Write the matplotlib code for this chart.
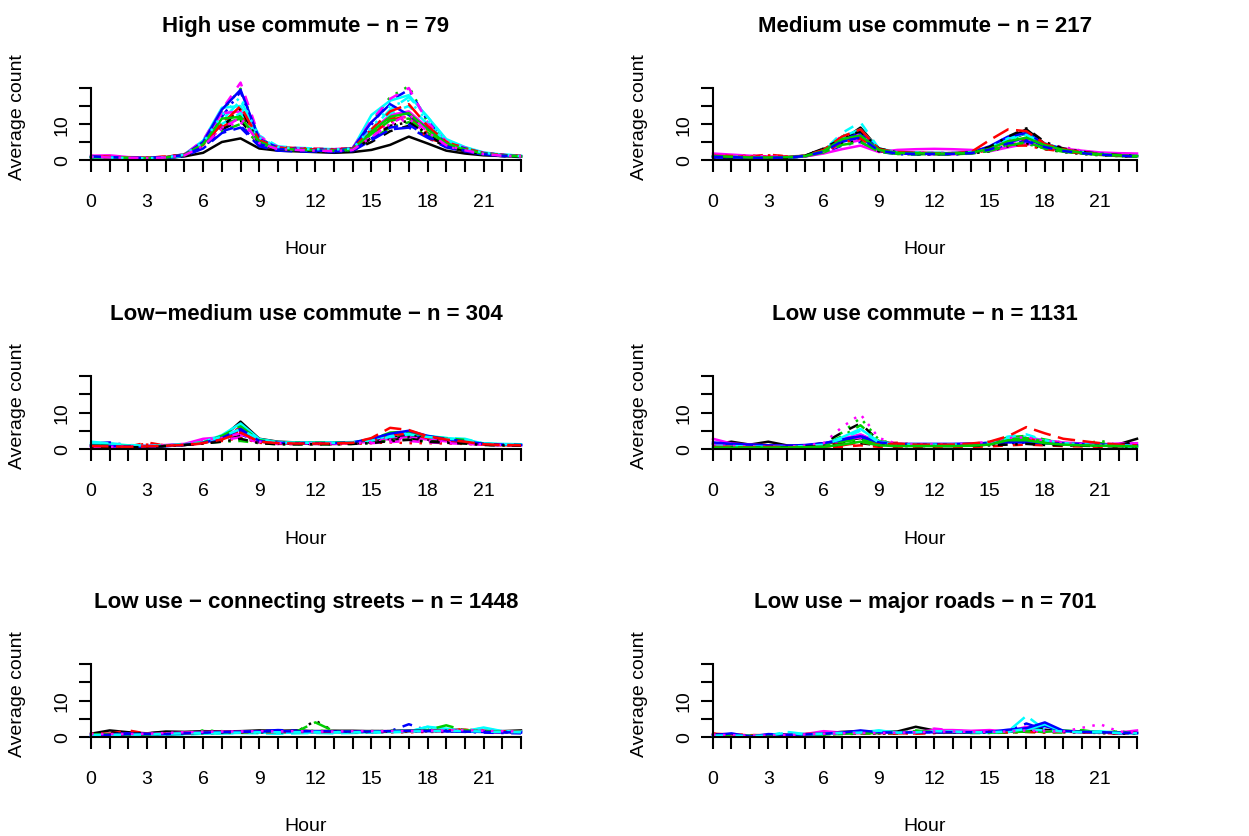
import matplotlib
matplotlib.use('Agg')
import matplotlib.pyplot as plt

plt.rcParams['font.family'] = ['Liberation Sans', 'DejaVu Sans']

hours = list(range(24))
hour_labels = [str(h) if h % 3 == 0 else '' for h in hours]
y_ticks = [0, 5, 10, 15, 20]
y_labels = ['0', '', '10', '', '']

titles = [
    'High use commute \u2212 n = 79',
    'Medium use commute \u2212 n = 217',
    'Low\u2212medium use commute \u2212 n = 304',
    'Low use commute \u2212 n = 1131',
    'Low use \u2212 connecting streets \u2212 n = 1448',
    'Low use \u2212 major roads \u2212 n = 701',
]

# hourly average counts, one list per counter
high_use = [
    [0.8, 0.6, 0.5, 0.5, 0.6, 1.0, 2.0, 5.0, 6.0, 3.2, 2.6, 2.4, 2.2, 2.0, 2.2, 2.8, 4.2, 6.5, 4.6, 2.6, 1.8, 1.3, 1.1, 0.9],
    [1.0, 0.9, 0.6, 0.6, 0.9, 1.5, 3.8, 9.0, 12.5, 5.0, 3.3, 3.0, 2.8, 2.7, 3.0, 7.0, 11.0, 12.5, 7.5, 4.3, 2.9, 1.7, 1.3, 1.0],
    [0.9, 0.7, 0.5, 0.5, 0.7, 1.4, 5.2, 13.5, 19.8, 6.0, 3.5, 3.1, 2.9, 2.8, 3.3, 10.5, 17.5, 20.5, 10.5, 5.1, 3.2, 1.9, 1.4, 1.1],
    [0.7, 0.6, 0.5, 0.4, 0.6, 1.3, 4.5, 12.0, 19.0, 5.5, 3.3, 3.0, 2.8, 2.8, 3.1, 9.8, 16.5, 19.5, 11.0, 5.4, 3.3, 1.9, 1.3, 1.0],
    [0.8, 0.7, 0.6, 0.5, 0.7, 1.5, 4.8, 11.0, 16.5, 6.8, 3.8, 3.4, 3.2, 3.0, 3.3, 8.5, 14.0, 17.5, 12.0, 5.6, 3.5, 2.0, 1.5, 1.2],
    [1.2, 1.3, 0.8, 0.7, 0.8, 1.6, 5.0, 13.0, 13.5, 5.8, 3.4, 3.1, 2.9, 2.8, 3.2, 8.0, 12.5, 13.5, 9.0, 4.8, 3.2, 1.9, 1.4, 1.1],
    [0.6, 0.5, 0.4, 0.4, 0.5, 1.2, 3.5, 8.5, 11.0, 4.5, 2.8, 2.6, 2.4, 2.3, 2.6, 5.0, 8.0, 9.5, 6.5, 3.6, 2.4, 1.5, 1.1, 0.9],
    [0.9, 0.8, 0.6, 0.6, 0.9, 1.4, 4.2, 9.5, 13.0, 5.2, 3.1, 2.9, 2.7, 2.6, 2.9, 6.8, 10.5, 12.0, 6.5, 3.8, 2.5, 1.6, 1.2, 1.0],
    [0.7, 0.6, 0.5, 0.5, 0.6, 1.3, 3.8, 8.0, 10.0, 4.2, 2.9, 2.7, 2.5, 2.4, 2.8, 5.8, 9.0, 10.5, 6.8, 3.9, 2.6, 1.6, 1.2, 0.9],
    [0.5, 0.4, 0.4, 0.3, 0.5, 1.1, 3.2, 7.5, 9.0, 3.8, 2.6, 2.4, 2.3, 2.2, 2.5, 5.5, 8.5, 9.0, 6.2, 3.5, 2.4, 1.5, 1.1, 0.8],
    [0.9, 0.8, 0.6, 0.6, 0.8, 1.6, 5.4, 14.5, 15.0, 5.8, 3.5, 3.2, 3.0, 2.9, 3.2, 12.5, 16.5, 18.0, 12.0, 5.8, 3.6, 2.1, 1.5, 1.2],
    [1.0, 0.8, 0.7, 0.6, 0.8, 1.5, 5.5, 14.0, 21.5, 6.5, 3.6, 3.3, 3.1, 3.0, 3.4, 11.0, 17.0, 20.0, 10.5, 5.2, 3.4, 2.0, 1.4, 1.1],
    [0.8, 0.7, 0.5, 0.5, 0.6, 1.3, 4.0, 9.5, 12.5, 4.8, 3.0, 2.8, 2.6, 2.5, 2.8, 6.2, 9.5, 11.0, 7.2, 4.0, 2.7, 1.6, 1.2, 0.9],
    [1.1, 0.9, 0.7, 0.6, 1.0, 1.6, 4.4, 10.5, 14.0, 5.6, 3.6, 3.3, 3.1, 3.0, 3.3, 7.5, 11.5, 12.0, 6.0, 4.6, 3.1, 1.9, 1.4, 1.1],
    [0.9, 0.7, 0.6, 0.5, 0.7, 1.5, 4.6, 10.0, 11.5, 5.0, 3.2, 3.0, 2.8, 2.7, 3.0, 7.2, 11.0, 11.5, 7.5, 4.2, 2.8, 1.7, 1.3, 1.0],
    [0.8, 0.7, 0.5, 0.5, 0.7, 1.4, 5.0, 14.0, 19.5, 5.8, 3.4, 3.1, 2.9, 2.8, 3.2, 10.5, 15.5, 12.5, 8.8, 4.8, 3.2, 1.9, 1.4, 1.0],
    [0.7, 0.6, 0.5, 0.4, 0.6, 1.2, 4.2, 10.0, 13.0, 5.5, 3.2, 2.9, 2.7, 2.6, 2.9, 8.0, 13.0, 15.0, 10.0, 5.0, 3.0, 1.8, 1.3, 1.0],
    [1.1, 0.9, 0.6, 0.6, 0.8, 1.5, 4.0, 9.0, 10.5, 4.6, 3.0, 2.8, 2.6, 2.5, 2.8, 6.5, 10.0, 11.5, 7.0, 3.9, 2.6, 1.6, 1.2, 1.0],
    [0.7, 0.6, 0.5, 0.5, 0.6, 1.3, 4.0, 9.0, 14.5, 4.5, 2.9, 2.7, 2.5, 2.4, 2.7, 6.0, 9.5, 10.5, 7.0, 3.8, 2.6, 1.6, 1.2, 0.9],
    [0.9, 0.8, 0.6, 0.6, 0.8, 1.5, 4.2, 10.0, 15.0, 5.5, 3.4, 3.1, 2.9, 2.8, 3.1, 8.5, 13.5, 15.5, 9.5, 5.0, 3.3, 1.9, 1.4, 1.1],
    [0.8, 0.7, 0.6, 0.5, 0.7, 1.4, 4.4, 11.5, 12.0, 5.0, 3.1, 2.9, 2.7, 2.6, 2.9, 7.8, 12.0, 13.0, 8.5, 4.6, 3.0, 1.8, 1.3, 1.0],
    [1.0, 0.8, 0.6, 0.6, 0.8, 1.4, 3.6, 8.0, 9.5, 4.4, 3.0, 2.8, 2.6, 2.5, 2.7, 6.0, 9.0, 9.8, 6.6, 3.8, 2.6, 1.6, 1.2, 1.0],
    [0.8, 0.7, 0.5, 0.5, 0.7, 1.5, 4.9, 12.5, 17.5, 6.2, 3.6, 3.2, 3.0, 2.9, 3.2, 9.0, 15.0, 16.5, 11.0, 5.5, 3.4, 2.0, 1.4, 1.1],
    [0.9, 0.7, 0.6, 0.5, 0.7, 1.3, 3.9, 8.8, 11.8, 4.7, 3.0, 2.8, 2.6, 2.5, 2.8, 6.4, 10.0, 12.8, 7.8, 4.1, 2.7, 1.7, 1.2, 1.0],
]

medium_use = [
    [1.0, 0.8, 0.6, 0.6, 0.7, 1.2, 3.0, 5.5, 9.0, 3.0, 2.2, 2.0, 1.9, 1.9, 2.2, 3.5, 6.0, 8.5, 4.5, 3.0, 2.2, 1.6, 1.3, 1.1],
    [1.5, 1.2, 1.0, 1.5, 1.0, 1.1, 2.2, 5.0, 7.0, 2.6, 2.0, 1.9, 1.8, 1.8, 2.0, 3.0, 5.0, 6.0, 4.0, 2.8, 2.0, 1.5, 1.2, 1.0],
    [1.2, 1.0, 0.8, 0.8, 0.9, 1.1, 2.5, 6.5, 8.0, 2.8, 2.1, 2.0, 1.9, 1.9, 2.1, 3.2, 5.5, 6.5, 4.2, 3.0, 2.1, 1.6, 1.3, 1.1],
    [0.8, 0.7, 0.5, 0.5, 0.6, 1.0, 2.0, 4.0, 5.0, 2.3, 1.6, 1.5, 1.5, 1.5, 1.8, 2.6, 4.0, 5.5, 3.5, 2.5, 1.9, 1.5, 1.2, 1.0],
    [1.1, 0.9, 0.7, 0.7, 0.8, 1.2, 2.8, 6.0, 7.5, 3.2, 2.2, 2.0, 2.0, 2.0, 2.2, 3.4, 5.8, 7.0, 4.6, 3.1, 2.2, 1.7, 1.4, 1.2],
    [1.8, 1.5, 1.2, 1.0, 0.9, 1.0, 1.8, 3.0, 4.0, 2.2, 2.8, 3.0, 3.1, 3.0, 2.8, 2.4, 3.5, 4.5, 3.8, 3.2, 2.6, 2.1, 1.9, 1.8],
    [0.9, 0.7, 0.5, 0.4, 0.6, 1.2, 3.2, 6.0, 7.5, 3.0, 2.0, 1.8, 1.7, 1.7, 2.0, 3.2, 5.5, 7.5, 4.0, 2.8, 2.0, 1.5, 1.2, 1.0],
    [1.2, 1.0, 1.2, 1.0, 0.9, 1.1, 2.4, 5.5, 6.5, 2.7, 2.0, 1.9, 1.8, 1.8, 2.0, 3.0, 4.8, 5.5, 3.8, 2.7, 2.0, 1.5, 1.2, 1.0],
    [1.0, 0.8, 0.6, 0.6, 0.7, 1.0, 2.3, 7.0, 6.0, 2.6, 1.9, 1.8, 1.7, 1.7, 1.9, 2.8, 4.2, 4.5, 3.2, 2.4, 1.8, 1.4, 1.1, 0.9],
    [0.7, 0.6, 0.5, 0.5, 0.6, 1.0, 2.2, 5.0, 6.5, 2.5, 1.8, 1.7, 1.7, 1.7, 2.0, 3.0, 5.0, 6.0, 3.8, 2.6, 1.9, 1.5, 1.2, 1.0],
    [0.9, 0.8, 0.6, 0.6, 0.7, 1.1, 2.6, 6.5, 8.5, 3.0, 2.0, 1.9, 1.8, 1.8, 2.1, 3.2, 5.8, 7.5, 4.4, 3.0, 2.1, 1.6, 1.3, 1.1],
    [1.3, 1.1, 0.9, 0.8, 0.8, 1.0, 2.0, 4.5, 5.5, 2.4, 1.8, 1.7, 1.6, 1.6, 1.9, 2.6, 4.5, 5.0, 3.5, 2.6, 2.0, 1.6, 1.4, 1.3],
    [0.8, 0.6, 0.5, 0.5, 0.6, 1.1, 2.4, 4.5, 5.5, 2.4, 1.7, 1.6, 1.6, 1.6, 1.8, 2.4, 3.8, 4.5, 3.0, 2.2, 1.7, 1.3, 1.1, 0.9],
    [1.4, 1.1, 0.9, 1.3, 1.0, 1.1, 2.2, 4.8, 6.0, 2.5, 1.9, 1.8, 1.7, 1.7, 1.9, 2.7, 4.0, 4.0, 3.0, 2.4, 1.9, 1.5, 1.2, 1.0],
    [1.0, 0.8, 0.7, 0.6, 0.7, 1.0, 2.1, 4.2, 5.0, 2.3, 1.7, 1.6, 1.6, 1.6, 1.8, 2.5, 4.0, 5.0, 3.2, 2.3, 1.8, 1.4, 1.1, 0.9],
    [0.8, 0.7, 0.6, 0.6, 0.7, 1.1, 2.6, 5.5, 7.5, 2.9, 2.0, 1.9, 1.8, 1.8, 2.1, 3.8, 6.5, 7.5, 4.5, 3.0, 2.2, 1.7, 1.3, 1.1],
    [1.0, 0.9, 0.7, 0.6, 0.7, 1.1, 2.6, 7.5, 10.5, 3.2, 2.1, 2.0, 1.9, 1.9, 2.2, 3.4, 6.0, 7.0, 4.6, 3.1, 2.2, 1.7, 1.3, 1.1],
    [1.4, 1.2, 1.0, 0.9, 0.9, 1.0, 2.4, 6.8, 7.0, 2.9, 2.2, 2.1, 2.0, 2.0, 2.2, 3.0, 5.5, 5.8, 4.5, 3.6, 2.6, 1.9, 1.6, 1.4],
    [0.9, 0.7, 0.5, 0.5, 0.6, 1.2, 3.2, 6.0, 8.0, 3.2, 2.1, 1.9, 1.8, 1.8, 2.1, 3.6, 6.5, 8.8, 5.0, 3.2, 2.3, 1.7, 1.4, 1.2],
    [1.2, 1.0, 0.8, 0.8, 0.8, 1.2, 2.8, 6.5, 8.5, 3.0, 2.2, 2.0, 1.9, 1.9, 2.2, 5.5, 8.5, 8.0, 4.5, 3.0, 2.2, 1.6, 1.3, 1.1],
    [1.1, 0.9, 0.7, 0.7, 0.8, 1.1, 2.5, 5.8, 6.8, 2.8, 2.0, 1.9, 1.8, 1.8, 2.0, 3.1, 5.2, 6.2, 4.1, 2.8, 2.0, 1.6, 1.3, 1.1],
    [0.9, 0.8, 0.6, 0.6, 0.7, 1.1, 2.3, 5.2, 6.2, 2.6, 1.8, 1.7, 1.7, 1.7, 1.9, 2.9, 4.6, 5.2, 3.6, 2.5, 1.9, 1.5, 1.2, 1.0],
]

low_medium_use = [
    [1.0, 1.2, 0.8, 0.7, 1.0, 1.2, 1.8, 3.0, 7.5, 2.8, 2.0, 1.8, 1.8, 1.7, 1.8, 2.2, 3.0, 3.8, 3.0, 2.5, 2.2, 1.4, 1.2, 1.1],
    [0.6, 0.5, 0.6, 1.8, 0.9, 1.1, 1.5, 2.5, 5.0, 2.0, 1.6, 1.5, 1.5, 1.5, 1.6, 2.2, 4.0, 4.5, 3.0, 2.3, 2.0, 1.3, 1.1, 1.0],
    [1.2, 0.8, 0.7, 0.7, 0.9, 1.2, 1.8, 3.5, 4.5, 2.2, 1.7, 1.6, 1.6, 1.6, 1.7, 2.4, 3.5, 4.0, 3.2, 2.6, 2.2, 1.4, 1.2, 1.1],
    [1.5, 1.8, 1.0, 0.8, 1.0, 1.2, 1.6, 2.8, 4.0, 2.0, 1.6, 1.5, 1.5, 1.5, 1.7, 2.6, 3.8, 4.2, 3.0, 2.4, 1.9, 1.3, 1.2, 1.0],
    [2.0, 1.5, 1.0, 0.9, 1.0, 1.2, 1.7, 3.2, 6.5, 2.6, 1.8, 1.7, 1.7, 1.7, 1.8, 2.4, 3.6, 4.5, 3.5, 3.0, 2.8, 1.5, 1.3, 1.2],
    [0.5, 0.6, 0.8, 0.9, 1.1, 1.4, 2.8, 3.2, 4.2, 2.1, 1.6, 1.6, 1.5, 1.5, 1.6, 2.0, 2.8, 3.2, 2.6, 2.1, 1.7, 1.3, 1.2, 1.0],
    [0.4, 0.4, 0.4, 0.4, 0.8, 1.2, 1.8, 2.5, 3.5, 1.8, 1.4, 1.4, 1.4, 1.4, 1.5, 1.8, 2.5, 2.8, 2.2, 1.9, 1.6, 1.2, 1.0, 0.9],
    [0.8, 0.7, 0.6, 1.5, 1.0, 1.1, 1.5, 2.2, 3.0, 1.7, 1.4, 1.4, 1.3, 1.3, 1.4, 1.6, 1.8, 1.6, 1.6, 1.5, 1.4, 1.2, 1.0, 0.9],
    [0.9, 0.8, 0.7, 0.6, 0.8, 1.1, 1.6, 2.0, 2.2, 1.6, 1.3, 1.3, 1.3, 1.3, 1.4, 1.7, 2.4, 2.6, 2.0, 1.8, 1.6, 1.2, 1.0, 0.9],
    [0.7, 0.6, 0.5, 0.5, 0.8, 1.1, 1.7, 3.0, 5.0, 2.3, 1.7, 1.6, 1.6, 1.6, 1.8, 2.6, 4.0, 4.8, 3.4, 2.6, 2.0, 1.4, 1.2, 1.1],
    [1.6, 1.2, 0.9, 0.8, 1.0, 1.3, 1.9, 3.8, 7.0, 2.7, 1.9, 1.8, 1.8, 1.8, 1.9, 2.6, 3.8, 4.6, 3.6, 3.0, 2.6, 1.5, 1.4, 1.3],
    [0.6, 0.5, 0.5, 0.6, 0.8, 1.1, 1.6, 2.4, 3.2, 1.8, 1.4, 1.4, 1.4, 1.4, 1.5, 1.6, 1.9, 2.2, 1.8, 1.6, 1.4, 1.2, 1.0, 0.9],
    [0.8, 0.7, 0.6, 0.6, 0.8, 1.1, 1.6, 2.6, 4.2, 2.0, 1.5, 1.4, 1.4, 1.4, 1.5, 1.9, 2.8, 3.2, 2.6, 2.1, 1.8, 1.3, 1.1, 1.0],
    [1.0, 0.8, 0.7, 1.2, 0.9, 1.1, 1.6, 2.8, 6.0, 2.2, 1.7, 1.6, 1.6, 1.6, 1.7, 2.4, 3.8, 4.2, 3.0, 2.4, 2.0, 1.3, 1.1, 1.0],
    [1.1, 0.9, 0.8, 0.7, 0.9, 1.2, 1.8, 3.6, 6.2, 2.4, 1.8, 1.7, 1.7, 1.7, 1.8, 2.6, 4.5, 4.8, 3.4, 2.9, 2.5, 1.4, 1.2, 1.1],
    [0.9, 0.8, 0.7, 0.6, 0.8, 1.1, 1.7, 3.0, 5.5, 2.2, 1.7, 1.6, 1.6, 1.6, 1.8, 2.8, 4.2, 5.0, 3.6, 2.7, 2.1, 1.4, 1.2, 1.1],
    [1.8, 1.6, 1.1, 0.9, 1.0, 1.2, 1.8, 3.4, 5.5, 2.5, 1.8, 1.7, 1.7, 1.7, 1.8, 2.3, 3.3, 4.0, 3.3, 2.8, 2.6, 1.5, 1.3, 1.2],
    [0.7, 0.6, 0.7, 0.8, 1.0, 1.3, 2.5, 3.0, 3.8, 2.0, 1.6, 1.5, 1.5, 1.5, 1.6, 1.9, 2.5, 2.8, 2.3, 1.9, 1.6, 1.2, 1.1, 1.0],
    [0.5, 0.5, 0.5, 0.5, 0.8, 1.1, 1.5, 2.0, 2.8, 1.6, 1.3, 1.3, 1.3, 1.3, 1.4, 1.6, 2.2, 2.5, 2.0, 1.7, 1.5, 1.1, 1.0, 0.9],
    [0.8, 0.7, 0.6, 0.7, 0.9, 1.1, 1.6, 2.6, 4.5, 2.0, 1.6, 1.5, 1.5, 1.5, 1.7, 3.0, 5.8, 5.2, 3.5, 2.6, 2.0, 1.3, 1.1, 1.0],
]

low_use = [
    [1.2, 2.0, 1.2, 2.0, 1.0, 0.8, 1.5, 2.2, 3.0, 1.5, 1.2, 1.2, 1.2, 1.2, 1.3, 1.5, 2.0, 2.5, 1.8, 1.5, 1.3, 1.2, 1.3, 2.8],
    [0.8, 0.6, 0.6, 0.7, 0.6, 0.6, 0.5, 0.6, 1.0, 0.6, 0.5, 0.5, 0.5, 0.5, 0.6, 0.7, 1.0, 1.2, 1.0, 0.8, 0.7, 0.6, 0.6, 0.6],
    [0.5, 0.5, 0.5, 0.5, 0.5, 0.8, 1.5, 4.5, 8.5, 2.5, 1.2, 1.1, 1.1, 1.1, 1.2, 1.8, 3.0, 3.2, 2.4, 1.6, 1.2, 2.3, 1.0, 0.8],
    [1.0, 0.8, 0.8, 0.7, 0.6, 0.9, 1.3, 2.2, 3.2, 1.5, 1.1, 1.1, 1.1, 1.1, 1.3, 1.5, 2.0, 2.3, 1.6, 1.3, 1.1, 1.0, 0.9, 0.8],
    [0.5, 1.5, 0.8, 0.6, 0.5, 0.8, 1.2, 2.5, 4.0, 1.6, 1.2, 1.1, 1.1, 1.1, 1.2, 1.6, 2.5, 3.5, 2.2, 1.6, 1.3, 1.1, 1.0, 0.6],
    [2.8, 1.5, 1.2, 1.0, 0.8, 1.0, 1.5, 2.8, 4.0, 1.8, 1.3, 1.3, 1.3, 1.3, 1.4, 1.7, 2.4, 3.0, 2.2, 1.8, 1.5, 1.3, 1.5, 1.6],
    [0.8, 0.7, 0.7, 0.6, 0.6, 0.9, 1.6, 4.5, 7.0, 2.2, 1.2, 1.1, 1.1, 1.1, 1.2, 1.6, 2.2, 2.6, 1.9, 1.5, 1.3, 1.1, 1.0, 2.2],
    [1.0, 0.9, 0.8, 1.2, 0.7, 0.8, 1.0, 1.6, 2.2, 1.2, 1.0, 1.0, 1.0, 1.0, 1.1, 1.3, 1.8, 2.2, 1.6, 1.3, 1.1, 1.0, 0.9, 0.9],
    [0.6, 0.5, 0.5, 0.5, 0.5, 0.7, 1.2, 3.5, 6.5, 2.2, 1.2, 1.1, 1.1, 1.1, 1.2, 1.7, 3.2, 3.6, 2.6, 1.7, 1.2, 1.6, 1.0, 0.9],
    [1.4, 1.2, 1.0, 0.9, 0.8, 1.0, 1.4, 2.6, 3.6, 1.6, 1.2, 1.2, 1.2, 1.2, 1.3, 1.5, 2.0, 2.2, 1.6, 1.4, 1.2, 1.1, 1.0, 0.9],
    [0.4, 0.9, 0.6, 0.5, 0.5, 0.7, 1.2, 3.2, 5.5, 2.0, 1.3, 1.2, 1.2, 1.2, 1.3, 1.8, 2.8, 3.0, 2.2, 1.6, 1.2, 1.0, 0.8, 0.5],
    [1.6, 1.3, 1.0, 0.9, 0.8, 1.0, 1.4, 2.4, 3.2, 1.6, 1.2, 1.2, 1.2, 1.2, 1.4, 1.9, 2.8, 2.8, 2.4, 1.8, 1.4, 1.2, 1.1, 1.0],
    [0.6, 0.5, 0.5, 0.5, 0.5, 0.7, 1.0, 1.8, 2.4, 1.2, 0.9, 0.9, 0.9, 0.9, 1.0, 1.2, 1.6, 1.8, 1.4, 1.2, 1.0, 0.9, 0.8, 0.7],
    [0.7, 0.6, 0.5, 0.5, 0.5, 0.6, 0.9, 1.4, 1.8, 1.6, 1.7, 1.2, 1.0, 1.0, 1.1, 1.4, 2.2, 2.8, 2.0, 1.5, 1.2, 1.0, 0.9, 0.8],
    [0.6, 0.5, 0.4, 0.4, 0.4, 0.6, 1.0, 2.0, 2.6, 1.4, 1.0, 1.0, 1.0, 1.0, 1.1, 1.5, 2.6, 3.0, 2.0, 1.5, 1.2, 1.0, 0.9, 0.8],
    [1.8, 1.4, 1.2, 1.0, 0.9, 1.1, 1.6, 2.5, 3.5, 1.8, 1.4, 1.4, 1.4, 1.4, 1.5, 1.6, 1.8, 1.8, 1.6, 1.5, 1.4, 1.2, 1.1, 1.0],
    [0.9, 0.8, 0.7, 0.6, 0.6, 0.8, 1.2, 2.8, 5.0, 1.8, 1.2, 1.2, 1.2, 1.2, 1.3, 1.8, 3.4, 4.0, 2.4, 1.6, 1.3, 1.1, 1.0, 0.9],
    [1.0, 0.8, 0.7, 0.6, 0.6, 0.9, 1.6, 6.0, 9.5, 3.0, 1.4, 1.3, 1.3, 1.3, 1.5, 2.0, 3.0, 3.2, 2.3, 1.6, 1.3, 1.1, 1.0, 0.9],
    [0.5, 0.5, 0.4, 0.4, 0.5, 0.6, 0.8, 1.2, 1.6, 1.0, 0.8, 0.8, 0.8, 0.8, 0.9, 1.0, 1.2, 1.4, 1.1, 1.0, 0.9, 0.8, 0.7, 0.6],
    [0.6, 0.5, 0.5, 0.6, 0.5, 0.5, 0.6, 1.0, 1.8, 1.2, 1.5, 1.2, 1.2, 1.2, 1.5, 2.0, 3.5, 6.0, 4.3, 2.8, 2.2, 1.6, 1.2, 1.0],
    [0.4, 0.4, 0.4, 0.4, 0.4, 0.5, 0.6, 1.2, 2.0, 1.0, 0.8, 0.8, 0.8, 0.8, 0.9, 1.2, 2.4, 2.4, 1.6, 1.2, 1.0, 0.9, 0.8, 0.7],
]

connecting_streets = [
    [0.9, 1.8, 1.3, 1.0, 1.5, 1.4, 1.6, 1.5, 1.6, 1.8, 1.7, 1.8, 1.6, 1.7, 1.7, 1.6, 1.6, 1.7, 1.8, 2.0, 1.9, 1.7, 1.6, 1.8],
    [0.8, 0.9, 1.8, 0.9, 0.8, 1.0, 1.2, 1.3, 1.4, 1.4, 1.3, 1.4, 1.3, 1.4, 1.4, 1.5, 1.5, 1.5, 1.6, 1.6, 2.2, 1.4, 1.3, 1.2],
    [0.6, 0.7, 0.8, 0.8, 0.9, 1.1, 1.8, 1.6, 1.4, 1.5, 1.6, 1.5, 1.7, 1.6, 1.5, 1.6, 1.7, 1.8, 1.9, 1.8, 1.6, 1.5, 1.4, 1.3],
    [0.3, 0.5, 0.7, 0.7, 0.9, 1.0, 1.1, 1.2, 1.3, 1.4, 1.4, 1.4, 1.5, 1.4, 1.4, 1.5, 1.6, 3.5, 1.8, 1.6, 1.4, 1.2, 1.1, 1.0],
    [0.5, 0.4, 0.5, 0.6, 0.8, 0.7, 0.9, 1.0, 1.1, 1.0, 0.9, 1.0, 1.1, 1.0, 1.1, 1.2, 1.3, 1.4, 2.8, 1.7, 1.5, 2.5, 1.4, 1.2],
    [0.7, 0.8, 0.9, 0.9, 1.0, 1.2, 1.4, 1.4, 1.5, 1.5, 1.6, 1.5, 1.6, 1.5, 1.5, 1.6, 1.6, 1.6, 1.7, 1.7, 1.8, 1.6, 1.5, 1.4],
    [1.0, 1.0, 1.0, 1.0, 1.3, 1.2, 1.4, 1.5, 1.5, 1.6, 1.5, 1.6, 1.5, 1.6, 1.5, 1.6, 1.6, 1.7, 1.7, 1.8, 1.7, 1.6, 1.5, 1.4],
    [0.9, 0.8, 0.7, 0.7, 0.8, 0.9, 1.0, 1.1, 1.2, 1.2, 1.2, 1.2, 1.2, 1.2, 1.2, 1.3, 1.3, 1.3, 1.4, 1.4, 1.6, 1.8, 1.3, 1.2],
    [0.8, 0.8, 0.8, 0.8, 0.8, 0.9, 1.0, 1.1, 1.2, 1.3, 1.4, 1.5, 1.6, 1.6, 1.5, 1.5, 1.6, 1.7, 2.0, 1.8, 1.8, 1.6, 1.5, 1.4],
    [0.6, 0.7, 1.0, 0.8, 0.7, 0.9, 1.1, 1.3, 1.4, 1.6, 1.9, 1.7, 1.5, 1.5, 1.4, 1.4, 1.5, 1.6, 1.6, 1.6, 1.5, 1.4, 1.3, 1.2],
    [0.4, 0.5, 0.6, 0.6, 0.7, 0.8, 0.9, 1.0, 1.1, 1.2, 1.1, 1.2, 1.2, 1.2, 1.2, 1.3, 1.4, 1.5, 2.8, 2.3, 1.6, 2.6, 1.6, 1.5],
    [0.6, 0.6, 0.7, 0.8, 1.0, 1.2, 1.3, 1.4, 1.4, 1.5, 1.4, 1.5, 1.4, 1.4, 1.5, 1.5, 1.5, 1.6, 1.7, 1.8, 1.8, 1.6, 1.5, 1.4],
    [0.7, 0.7, 0.8, 0.8, 1.2, 1.0, 1.1, 1.2, 1.2, 1.3, 1.3, 1.4, 4.5, 1.5, 1.4, 1.4, 1.5, 1.5, 1.6, 1.7, 1.6, 1.5, 1.4, 1.3],
    [0.9, 0.9, 0.8, 0.8, 0.9, 1.0, 1.1, 1.2, 1.3, 1.3, 1.3, 1.4, 1.4, 1.4, 1.4, 1.4, 1.5, 1.6, 1.7, 1.8, 2.0, 1.4, 1.6, 1.3],
    [0.7, 0.7, 0.7, 0.7, 0.8, 0.9, 1.2, 1.3, 1.3, 1.4, 1.4, 1.5, 4.0, 1.6, 1.5, 1.6, 1.6, 1.7, 1.9, 3.2, 1.8, 1.6, 1.5, 1.4],
    [0.4, 0.6, 0.8, 0.8, 0.8, 1.0, 1.2, 1.3, 1.4, 1.5, 1.6, 1.5, 1.6, 1.5, 1.5, 1.5, 1.6, 1.7, 1.7, 1.6, 1.5, 1.4, 1.3, 1.2],
    [0.5, 0.6, 0.6, 0.7, 0.9, 1.0, 1.1, 1.2, 1.2, 1.3, 1.3, 1.3, 1.4, 1.3, 1.3, 1.4, 1.4, 1.5, 1.6, 1.7, 1.6, 1.5, 1.4, 1.3],
    [0.8, 0.8, 0.8, 0.9, 1.1, 1.3, 1.4, 1.5, 1.5, 1.6, 1.5, 1.6, 1.5, 1.5, 1.6, 1.6, 1.6, 1.6, 1.7, 1.8, 1.9, 1.7, 1.6, 1.5],
]

major_roads = [
    [0.8, 0.6, 0.4, 0.5, 0.6, 0.8, 1.0, 1.4, 1.6, 1.4, 1.5, 2.8, 1.8, 1.6, 1.5, 1.5, 1.4, 1.6, 2.0, 1.5, 1.4, 1.3, 1.2, 1.1],
    [0.9, 0.7, 0.5, 0.5, 0.6, 0.7, 0.9, 1.0, 1.1, 1.1, 1.0, 1.0, 1.2, 1.3, 1.4, 1.6, 1.2, 1.8, 1.3, 1.6, 1.4, 1.2, 1.0, 1.1],
    [0.5, 0.4, 0.4, 0.5, 0.6, 0.7, 0.8, 0.9, 1.0, 1.0, 1.1, 1.2, 1.2, 1.3, 1.3, 1.4, 1.5, 1.6, 1.5, 1.4, 1.3, 1.2, 1.6, 1.0],
    [0.4, 0.3, 0.3, 0.4, 0.5, 0.6, 0.8, 1.0, 1.2, 1.1, 1.1, 1.2, 1.3, 1.2, 1.3, 1.4, 1.6, 3.7, 2.0, 1.5, 1.3, 1.2, 1.1, 1.0],
    [0.3, 0.3, 0.3, 0.4, 1.4, 0.8, 1.0, 1.2, 1.4, 1.6, 1.3, 1.4, 1.6, 1.5, 1.4, 1.3, 1.5, 5.8, 2.0, 1.6, 1.4, 1.3, 1.2, 1.1],
    [0.6, 0.5, 0.4, 0.5, 0.6, 0.8, 1.6, 1.2, 1.3, 1.2, 1.3, 1.4, 1.9, 1.9, 1.7, 1.9, 1.5, 2.8, 1.6, 1.5, 1.4, 1.3, 1.2, 1.8],
    [0.7, 0.5, 0.4, 0.4, 0.5, 0.7, 0.9, 1.1, 1.3, 1.2, 1.2, 1.3, 1.4, 1.4, 1.3, 1.3, 1.4, 2.0, 2.5, 1.6, 1.5, 1.2, 1.1, 1.0],
    [0.8, 0.6, 0.5, 0.5, 0.6, 0.7, 0.8, 0.9, 1.0, 1.0, 1.0, 1.1, 1.1, 1.2, 1.2, 1.3, 1.3, 1.5, 1.4, 1.3, 1.2, 1.1, 1.0, 1.2],
    [0.5, 0.4, 0.4, 0.4, 0.5, 0.6, 0.7, 0.8, 0.9, 1.0, 1.0, 1.8, 1.3, 1.2, 1.1, 1.1, 1.2, 1.4, 1.3, 1.2, 1.9, 1.2, 1.5, 0.9],
    [0.4, 0.4, 0.3, 0.4, 0.5, 0.6, 0.8, 1.0, 1.3, 1.2, 1.2, 1.3, 1.3, 1.2, 1.2, 1.3, 1.5, 2.2, 3.0, 1.6, 1.4, 1.2, 1.0, 0.9],
    [0.3, 0.3, 0.3, 0.3, 0.6, 0.7, 0.9, 1.1, 1.3, 1.8, 1.2, 1.3, 1.5, 1.5, 1.3, 1.2, 1.4, 2.0, 3.5, 1.5, 1.3, 1.6, 1.1, 1.0],
    [0.5, 0.5, 0.4, 0.4, 0.5, 0.7, 0.9, 1.0, 1.1, 1.1, 1.2, 1.3, 2.3, 1.8, 1.5, 1.4, 1.5, 1.8, 1.6, 1.4, 1.3, 1.2, 1.1, 1.0],
    [0.6, 0.5, 0.4, 0.4, 0.5, 0.6, 0.8, 0.9, 1.0, 1.0, 1.1, 1.2, 1.2, 1.2, 1.2, 1.3, 1.3, 1.5, 1.5, 1.4, 1.3, 1.1, 1.0, 0.9],
    [0.9, 0.7, 0.5, 0.5, 0.6, 0.8, 1.0, 1.1, 1.1, 1.0, 1.0, 0.9, 1.1, 1.2, 1.3, 1.5, 1.2, 1.4, 1.2, 1.5, 1.3, 1.1, 1.0, 1.1],
    [0.4, 0.4, 0.3, 0.4, 0.5, 0.6, 0.7, 0.9, 1.0, 1.1, 1.2, 1.6, 1.4, 1.3, 1.2, 1.2, 1.3, 1.5, 1.4, 1.8, 1.5, 1.3, 1.2, 1.1],
    [0.5, 1.0, 0.1, 0.8, 0.6, 0.7, 0.9, 1.2, 1.8, 1.3, 1.2, 1.3, 1.3, 1.3, 1.3, 1.4, 2.0, 2.4, 4.0, 1.7, 1.4, 1.3, 1.2, 1.1],
    [0.4, 0.4, 0.3, 0.4, 1.2, 0.7, 0.9, 1.1, 1.2, 1.7, 1.2, 1.3, 1.6, 1.5, 1.3, 1.3, 1.5, 2.2, 1.8, 1.5, 1.3, 1.3, 1.1, 1.0],
    [0.6, 0.5, 0.4, 0.4, 0.5, 0.7, 0.9, 1.0, 1.1, 1.1, 1.2, 1.3, 1.5, 1.5, 1.4, 1.4, 1.5, 1.8, 1.6, 1.5, 2.5, 3.5, 1.5, 1.2],
]

panels = [high_use, medium_use, low_medium_use, low_use,
          connecting_streets, major_roads]

# R matplot default cycles: col = 1:6, lty = 1:5
COLS = ['black', 'red', '#00CD00', 'blue', 'cyan', 'magenta']
LTYS = ['-', (0, (4, 4)), (0, (1, 3)), (0, (1, 3, 4, 3)), (0, (7, 3))]

W, H = 1249, 837
col_x = [(91, 521), (713, 1137)]
row_y = [(89, 161), (377, 450), (665, 738)]

fig = plt.figure(figsize=(W / 100, H / 100), dpi=100)

for k, (series, title) in enumerate(zip(panels, titles)):
    x0, x1 = col_x[k % 2]
    ytop, ybot = row_y[k // 2]
    ax = fig.add_axes([x0 / W, 1 - ybot / H, (x1 - x0) / W, (ybot - ytop) / H])

    for i, s in enumerate(series):
        ax.plot(hours, s, color=COLS[i % 6], linestyle=LTYS[i % 5],
                lw=1.8, clip_on=False)

    ax.set_xlim(0, 23)
    ax.set_ylim(0, 20)
    ax.spines['top'].set_visible(False)
    ax.spines['right'].set_visible(False)
    ax.spines['left'].set_linewidth(1.5)
    ax.spines['bottom'].set_linewidth(1.5)
    ax.set_xticks(hours, labels=hour_labels)
    ax.set_yticks(y_ticks, labels=y_labels)
    ax.tick_params(axis='x', length=8.5, width=1.5, labelsize=14, pad=15)
    ax.tick_params(axis='y', length=8.5, width=1.5, labelsize=14, pad=6)
    for lab in ax.get_yticklabels():
        lab.set_rotation(90)
        lab.set_va('center')

    cx = (x0 + x1) / 2
    fig.text(cx / W, 1 - (ytop - 57) / H, title, ha='center', va='baseline',
             fontsize=16, fontweight='bold')
    fig.text(cx / W, 1 - (ybot + 89) / H, 'Hour', ha='center', va='center',
             fontsize=14)
    fig.text((x0 - 73) / W, 1 - (ybot - 44) / H, 'Average count',
             ha='center', va='center', rotation=90, fontsize=14)

fig.savefig('out.png', dpi=100)
